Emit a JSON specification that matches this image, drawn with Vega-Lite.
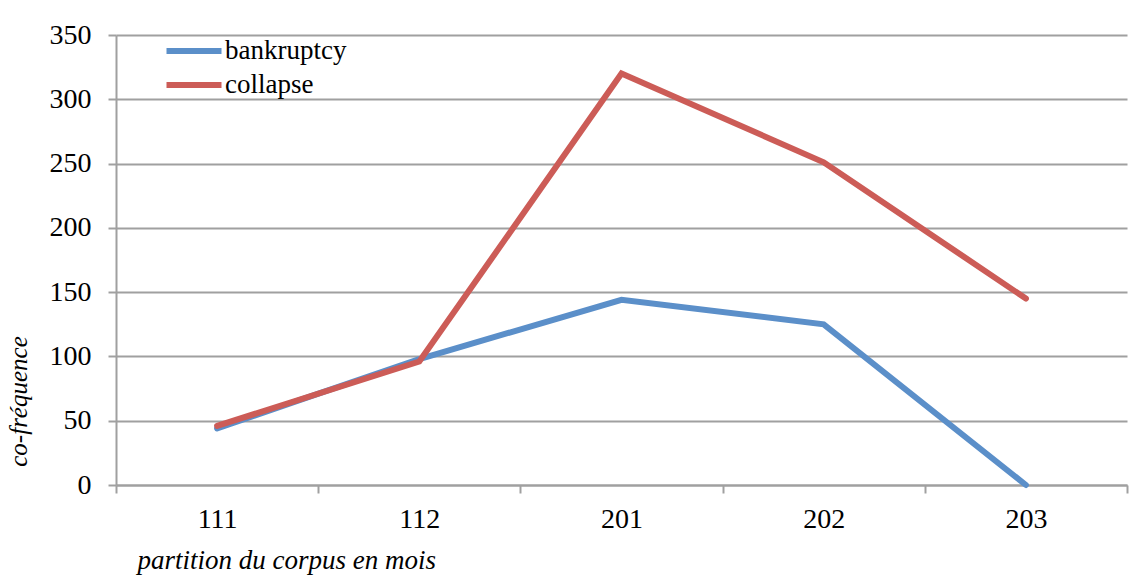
{
  "$schema": "https://vega.github.io/schema/vega-lite/v6.json",
  "width": 1011,
  "height": 450,
  "autosize": {"type": "none"},
  "padding": {"left": 116, "top": 35, "right": 14, "bottom": 90},
  "background": "white",
  "config": {
    "view": {"stroke": null},
    "font": "Liberation Serif"
  },
  "data": {
    "values": [
      {"partition": "111", "serie": "bankruptcy", "value": 44},
      {"partition": "112", "serie": "bankruptcy", "value": 98},
      {"partition": "201", "serie": "bankruptcy", "value": 144},
      {"partition": "202", "serie": "bankruptcy", "value": 125},
      {"partition": "203", "serie": "bankruptcy", "value": 0},
      {"partition": "111", "serie": "collapse", "value": 46},
      {"partition": "112", "serie": "collapse", "value": 96},
      {"partition": "201", "serie": "collapse", "value": 320},
      {"partition": "202", "serie": "collapse", "value": 251},
      {"partition": "203", "serie": "collapse", "value": 145}
    ]
  },
  "mark": {"type": "line", "strokeWidth": 6, "strokeCap": "round", "strokeJoin": "miter"},
  "encoding": {
    "x": {
      "field": "partition",
      "type": "nominal",
      "sort": null,
      "scale": {"type": "band", "paddingInner": 0, "paddingOuter": 0},
      "axis": {
        "title": "partition du corpus en mois",
        "titleFont": "Liberation Serif",
        "titleFontStyle": "italic",
        "titleFontWeight": "normal",
        "titleFontSize": 27,
        "titleColor": "black",
        "titleX": 21,
        "titleY": 75,
        "titleAlign": "left",
        "titleBaseline": "middle",
        "labelAngle": 0,
        "labelFont": "Liberation Serif",
        "labelFontSize": 28,
        "labelColor": "black",
        "labelPadding": 12,
        "tickBand": "extent",
        "tickSize": 8,
        "tickColor": "#a0a0a0",
        "tickWidth": 2,
        "domainColor": "#a0a0a0",
        "domainWidth": 2,
        "grid": false
      }
    },
    "y": {
      "field": "value",
      "type": "quantitative",
      "scale": {"domain": [0, 350], "nice": false},
      "axis": {
        "values": [0, 50, 100, 150, 200, 250, 300, 350],
        "title": "co-fréquence",
        "titleFont": "Liberation Serif",
        "titleFontStyle": "italic",
        "titleFontWeight": "normal",
        "titleFontSize": 25,
        "titleColor": "black",
        "titleAngle": -90,
        "titleX": -98,
        "titleY": 366,
        "titleAlign": "center",
        "titleBaseline": "middle",
        "labelFont": "Liberation Serif",
        "labelFontSize": 28,
        "labelColor": "black",
        "labelPadding": 17,
        "tickSize": 8,
        "tickColor": "#a0a0a0",
        "tickWidth": 2,
        "domainColor": "#a0a0a0",
        "domainWidth": 2,
        "grid": true,
        "gridColor": "#a0a0a0",
        "gridWidth": 2
      }
    },
    "color": {
      "field": "serie",
      "type": "nominal",
      "scale": {"domain": ["bankruptcy", "collapse"], "range": ["#5B8FC9", "#CC5C57"]},
      "legend": {
        "title": null,
        "orient": "none",
        "legendX": 64,
        "legendY": 2,
        "symbolType": "M-2.5,0H2.5",
        "symbolSize": 484,
        "symbolStrokeWidth": 6,
        "symbolStrokeColor": null,
        "labelFont": "Liberation Serif",
        "labelFontSize": 27,
        "labelColor": "black",
        "labelOffset": 17,
        "rowPadding": 7
      }
    }
  }
}
